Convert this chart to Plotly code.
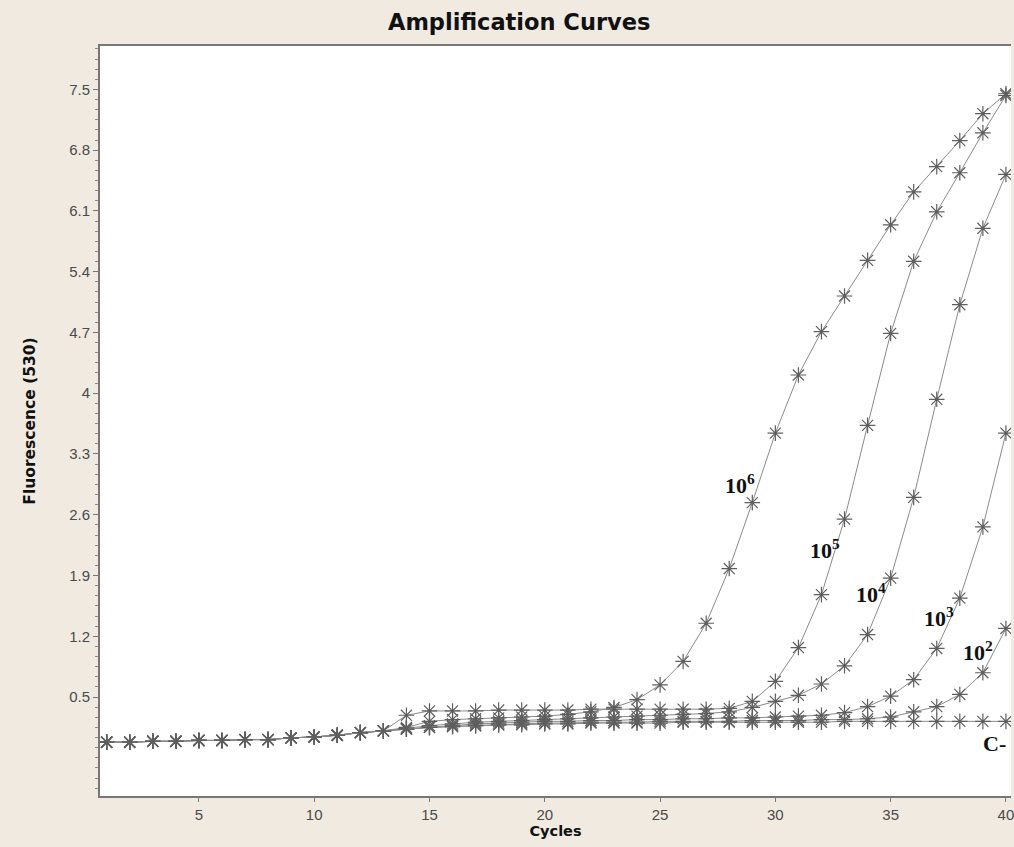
import plotly.graph_objects as go

cycles = list(range(1, 41))

series_names = ["10^6", "10^5", "10^4", "10^3", "10^2", "C-"]

fluor_1e6 = [-0.02, -0.02, -0.01, -0.01, 0.00, 0.00, 0.01, 0.01, 0.03, 0.04, 0.06, 0.09, 0.11,
             0.15, 0.22, 0.24, 0.25, 0.26, 0.27, 0.28, 0.30, 0.33, 0.38, 0.47, 0.64, 0.91, 1.35,
             1.98, 2.74, 3.54, 4.21, 4.71, 5.12, 5.53, 5.94, 6.32, 6.61, 6.91, 7.22, 7.45]
fluor_1e5 = [-0.02, -0.02, -0.01, -0.01, 0.00, 0.00, 0.01, 0.01, 0.03, 0.04, 0.06, 0.09, 0.11,
             0.29, 0.34, 0.34, 0.34, 0.35, 0.35, 0.35, 0.35, 0.36, 0.36, 0.36, 0.36, 0.36, 0.36,
             0.37, 0.45, 0.68, 1.07, 1.68, 2.55, 3.63, 4.69, 5.52, 6.09, 6.54, 7.00, 7.43]
fluor_1e4 = [-0.02, -0.02, -0.01, -0.01, 0.00, 0.00, 0.01, 0.01, 0.03, 0.04, 0.06, 0.09, 0.11,
             0.14, 0.17, 0.19, 0.21, 0.22, 0.23, 0.24, 0.25, 0.26, 0.27, 0.28, 0.29, 0.30, 0.31,
             0.33, 0.38, 0.45, 0.52, 0.65, 0.86, 1.22, 1.87, 2.80, 3.93, 5.02, 5.90, 6.52]
fluor_1e3 = [-0.02, -0.02, -0.01, -0.01, 0.00, 0.00, 0.01, 0.01, 0.03, 0.04, 0.06, 0.09, 0.11,
             0.13, 0.15, 0.17, 0.19, 0.20, 0.21, 0.22, 0.22, 0.23, 0.23, 0.24, 0.24, 0.25, 0.25,
             0.26, 0.26, 0.27, 0.28, 0.29, 0.32, 0.39, 0.51, 0.70, 1.06, 1.64, 2.46, 3.54]
fluor_1e2 = [-0.02, -0.02, -0.01, -0.01, 0.00, 0.00, 0.01, 0.01, 0.03, 0.04, 0.06, 0.09, 0.11,
             0.13, 0.15, 0.16, 0.17, 0.18, 0.19, 0.20, 0.20, 0.21, 0.21, 0.21, 0.22, 0.22, 0.22,
             0.22, 0.23, 0.23, 0.23, 0.24, 0.24, 0.25, 0.27, 0.33, 0.39, 0.53, 0.78, 1.29]
fluor_neg = [-0.02, -0.02, -0.01, -0.01, 0.00, 0.00, 0.01, 0.01, 0.03, 0.04, 0.06, 0.09, 0.11,
             0.13, 0.15, 0.16, 0.17, 0.18, 0.18, 0.19, 0.19, 0.20, 0.20, 0.20, 0.20, 0.21, 0.21,
             0.21, 0.21, 0.21, 0.21, 0.21, 0.22, 0.22, 0.22, 0.22, 0.22, 0.22, 0.22, 0.22]

all_series = [fluor_1e6, fluor_1e5, fluor_1e4, fluor_1e3, fluor_1e2, fluor_neg]

y_tick_values = [0.5, 1.2, 1.9, 2.6, 3.3, 4.0, 4.7, 5.4, 6.1, 6.8, 7.5]
y_tick_labels = ["0.5", "1.2", "1.9", "2.6", "3.3", "4", "4.7", "5.4", "6.1", "6.8", "7.5"]
x_tick_values = [5, 10, 15, 20, 25, 30, 35, 40]

curve_labels = ["10<sup>6</sup>", "10<sup>5</sup>", "10<sup>4</sup>", "10<sup>3</sup>", "10<sup>2</sup>", "C-"]
label_x = [28.45, 32.15, 34.15, 37.1, 38.8, 39.5]
label_y = [2.95, 2.2, 1.7, 1.42, 1.03, -0.03]

fig = go.Figure()
for name, vals in zip(series_names, all_series):
    fig.add_trace(go.Scatter(
        x=cycles, y=vals, name=name, mode="lines+markers",
        line=dict(color="#8a8a8a", width=1),
        marker=dict(symbol="asterisk-open", size=13, color="#5e5e5e",
                    line=dict(width=1.2, color="#5e5e5e")),
        showlegend=False,
    ))

for txt, lx, ly in zip(curve_labels, label_x, label_y):
    fig.add_annotation(x=lx, y=ly, text=txt, showarrow=False, xref="x", yref="y",
                       font=dict(family="Liberation Serif", size=22, color="#111111", weight="bold"))

fig.update_layout(
    width=1014, height=847,
    margin=dict(l=100, r=0, t=46, b=51),
    paper_bgcolor="#F0EAE1",
    plot_bgcolor="#FFFFFF",
    title=dict(text="<b>Amplification Curves</b>", x=0.512, xanchor="center", y=0.974, yanchor="middle",
               font=dict(family="DejaVu Sans", size=22.5, color="#111111")),
    xaxis=dict(
        range=[0.71, 40.22], tickvals=x_tick_values, ticks="outside", ticklen=4, tickcolor="#777777",
        showline=True, linecolor="#777777", linewidth=2, mirror=True, showgrid=False, zeroline=False,
        ticklabeloverflow="allow",
        tickfont=dict(family="Liberation Sans", size=15, color="#4a4a4a"),
        title=dict(text="<b>Cycles</b>", standoff=2,
                   font=dict(family="DejaVu Sans", size=14.5, color="#111111")),
    ),
    yaxis=dict(
        range=[-0.64, 8.0], tickvals=y_tick_values, ticktext=y_tick_labels, ticks="outside", ticklen=5,
        tickcolor="#777777", showline=True, linecolor="#777777", linewidth=2, mirror=False,
        showgrid=False, zeroline=False,
        minor=dict(tick0=0.5, dtick=0.7 / 6, ticks="outside", ticklen=3, tickcolor="#888888"),
        tickfont=dict(family="Liberation Sans", size=15, color="#4a4a4a"),
        title=dict(text="<b>Fluorescence (530)</b>", standoff=30,
                   font=dict(family="DejaVu Sans", size=15.5, color="#111111")),
    ),
)

fig.write_html("out.html", config={"displayModeBar": False},
               post_script="document.body.style.margin='0px';")
